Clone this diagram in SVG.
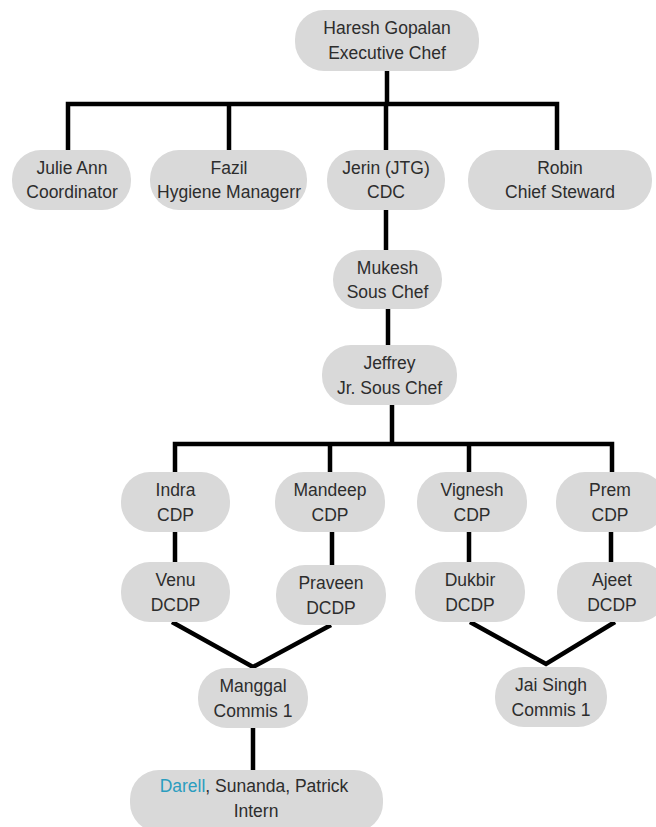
<svg xmlns="http://www.w3.org/2000/svg" width="656" height="827" viewBox="0 0 656 827">
<style>
.n{fill:#d9d9d9;}
.t{font-family:"Liberation Sans",Arial,sans-serif;font-size:17.5px;fill:#2d2d2d;text-anchor:middle;}
.c{fill:none;stroke:#000;stroke-width:4.5;stroke-linejoin:miter;}
.hl{fill:#2a9dbf;}
</style>
<rect width="656" height="827" fill="#fff"/>
<g id="connectors">
<path class="c" d="M387,71 V104"/>
<path class="c" d="M68,150 V104 H557 V150 M229,104 V150 M386,104 V150"/>
<path class="c" d="M386,210 V250"/>
<path class="c" d="M388,309 V345"/>
<path class="c" d="M392,405 V444"/>
<path class="c" d="M175,472 V444 H612 V472 M330,444 V472 M469,444 V472"/>
<path class="c" d="M175,532 V562 M332,532 V565 M469,532 V562 M611,532 V562"/>
<path class="c" d="M172,622 L253,667 L331,625"/>
<path class="c" d="M470,622 L546,664 L615,622"/>
<path class="c" d="M253,728 V770"/>
</g>
<g id="haresh"><rect class="n" x="295" y="10" width="184" height="61" rx="29"/><text class="t" x="387" y="34">Haresh Gopalan</text><text class="t" x="387" y="59">Executive Chef</text></g>
<g id="julie"><rect class="n" x="12" y="150" width="119" height="60" rx="29"/><text class="t" x="72" y="174">Julie Ann</text><text class="t" x="72" y="198">Coordinator</text></g>
<g id="fazil"><rect class="n" x="150" y="150" width="157" height="60" rx="29"/><text class="t" x="229" y="174">Fazil</text><text class="t" x="229" y="198">Hygiene Managerr</text></g>
<g id="jerin"><rect class="n" x="327" y="150" width="118" height="60" rx="29"/><text class="t" x="386" y="174">Jerin (JTG)</text><text class="t" x="386" y="198">CDC</text></g>
<g id="robin"><rect class="n" x="468" y="150" width="184" height="60" rx="29"/><text class="t" x="560" y="174">Robin</text><text class="t" x="560" y="198">Chief Steward</text></g>
<g id="mukesh"><rect class="n" x="333" y="250" width="109" height="59" rx="29"/><text class="t" x="387.5" y="274">Mukesh</text><text class="t" x="387.5" y="298">Sous Chef</text></g>
<g id="jeffrey"><rect class="n" x="322" y="345" width="135" height="60" rx="29"/><text class="t" x="389.5" y="369">Jeffrey</text><text class="t" x="389.5" y="394">Jr. Sous Chef</text></g>
<g id="indra"><rect class="n" x="121" y="472" width="109" height="60" rx="29"/><text class="t" x="175.5" y="496">Indra</text><text class="t" x="175.5" y="521">CDP</text></g>
<g id="mandeep"><rect class="n" x="275" y="472" width="110" height="60" rx="29"/><text class="t" x="330" y="496">Mandeep</text><text class="t" x="330" y="521">CDP</text></g>
<g id="vignesh"><rect class="n" x="417" y="472" width="110" height="60" rx="29"/><text class="t" x="472" y="496">Vignesh</text><text class="t" x="472" y="521">CDP</text></g>
<g id="prem"><rect class="n" x="556" y="472" width="110" height="60" rx="29"/><text class="t" x="610" y="496">Prem</text><text class="t" x="610" y="521">CDP</text></g>
<g id="venu"><rect class="n" x="121" y="562" width="109" height="60" rx="29"/><text class="t" x="175.5" y="586">Venu</text><text class="t" x="175.5" y="611">DCDP</text></g>
<g id="praveen"><rect class="n" x="276" y="565" width="110" height="60" rx="29"/><text class="t" x="331" y="589">Praveen</text><text class="t" x="331" y="614">DCDP</text></g>
<g id="dukbir"><rect class="n" x="415" y="562" width="110" height="60" rx="29"/><text class="t" x="470" y="586">Dukbir</text><text class="t" x="470" y="611">DCDP</text></g>
<g id="ajeet"><rect class="n" x="557" y="562" width="110" height="60" rx="29"/><text class="t" x="612" y="586">Ajeet</text><text class="t" x="612" y="611">DCDP</text></g>
<g id="manggal"><rect class="n" x="198" y="668" width="110" height="60" rx="29"/><text class="t" x="253" y="692">Manggal</text><text class="t" x="253" y="717">Commis 1</text></g>
<g id="jaisingh"><rect class="n" x="495" y="667" width="112" height="60" rx="29"/><text class="t" x="551" y="691">Jai Singh</text><text class="t" x="551" y="716">Commis 1</text></g>
<g id="intern"><rect class="n" x="130" y="770" width="253" height="62" rx="29"/><text class="t" x="254" y="792"><tspan class="hl">Darell</tspan>, Sunanda, Patrick</text><text class="t" x="256" y="817">Intern</text></g>
</svg>
